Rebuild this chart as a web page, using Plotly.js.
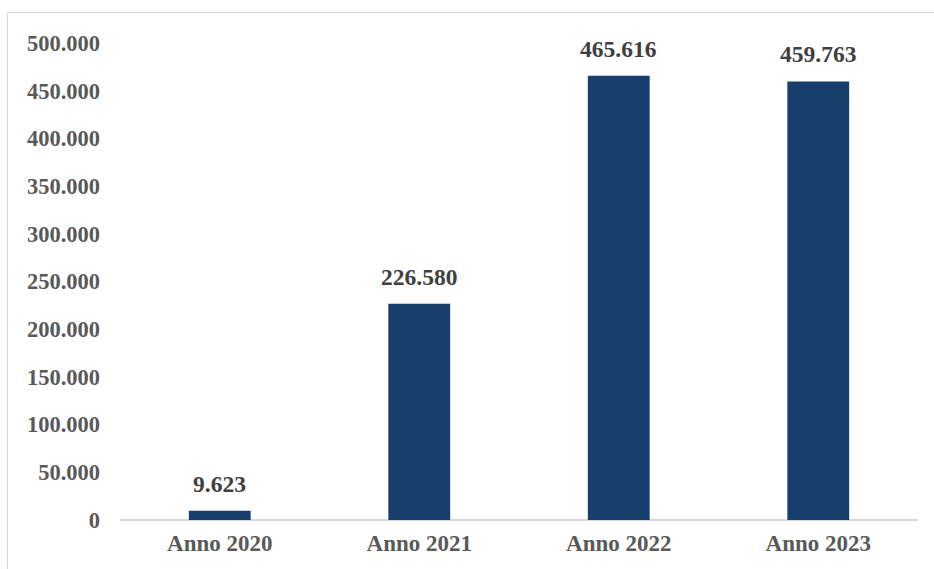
<!DOCTYPE html>
<html>
<head>
<meta charset="utf-8">
<script src="https://cdn.plot.ly/plotly-3.0.1.min.js"></script>
<style>
  html, body { margin: 0; padding: 0; background: #fff; overflow: hidden; }
  #wrap { position: relative; width: 934px; height: 569px; }
  #chart { position: absolute; left: 0; top: 0; width: 934px; height: 569px; }
  #frame { position: absolute; left: 7px; top: 12px; width: 940px; height: 570px;
           border: 1px solid #d9d9d9; pointer-events: none; }
</style>
</head>
<body>
<div id="wrap">
  <div id="chart"></div>
  <div id="frame"></div>
</div>
<script>
const categories = ["Anno 2020", "Anno 2021", "Anno 2022", "Anno 2023"];
const values = [9623, 226580, 465616, 459763];
const valueLabels = ["9.623", "226.580", "465.616", "459.763"];
const yTicks = [0, 50000, 100000, 150000, 200000, 250000, 300000, 350000, 400000, 450000, 500000];

const fam = "Liberation Serif, 'Times New Roman', serif";

const trace = {
  type: "bar",
  x: categories,
  y: values,
  marker: { color: "#173e6d", line: { width: 0 } },
  hoverinfo: "none"
};

const annotations = categories.map((c, i) => ({
  x: c, y: values[i], xref: "x", yref: "y",
  text: "<b>" + valueLabels[i] + "</b>",
  showarrow: false, yanchor: "bottom", yshift: 12,
  font: { family: fam, size: 23.5, color: "#404040" }
}));

const layout = {
  width: 934, height: 569,
  margin: { l: 120, r: 16, t: 43, b: 49 },
  paper_bgcolor: "#ffffff", plot_bgcolor: "#ffffff",
  separators: ",.",
  bargap: 0.69,
  showlegend: false,
  font: { family: fam, size: 22, color: "#595959" },
  xaxis: {
    type: "category",
    showgrid: false, zeroline: false, showline: false,
    ticks: "", ticklabelstandoff: 7,
    tickfont: { family: fam, size: 23, color: "#595959", weight: "bold" }
  },
  yaxis: {
    range: [0, 500000],
    tickvals: yTicks,
    tickformat: ",d",
    showgrid: false, zeroline: true, zerolinecolor: "#d9d9d9", zerolinewidth: 2,
    showline: false, ticks: "", ticklabelstandoff: 19,
    tickfont: { family: fam, size: 22.5, color: "#595959", weight: "bold" }
  },
  annotations: annotations
};

Plotly.newPlot("chart", [trace], layout, { displayModeBar: false, staticPlot: true });
</script>
</body>
</html>
